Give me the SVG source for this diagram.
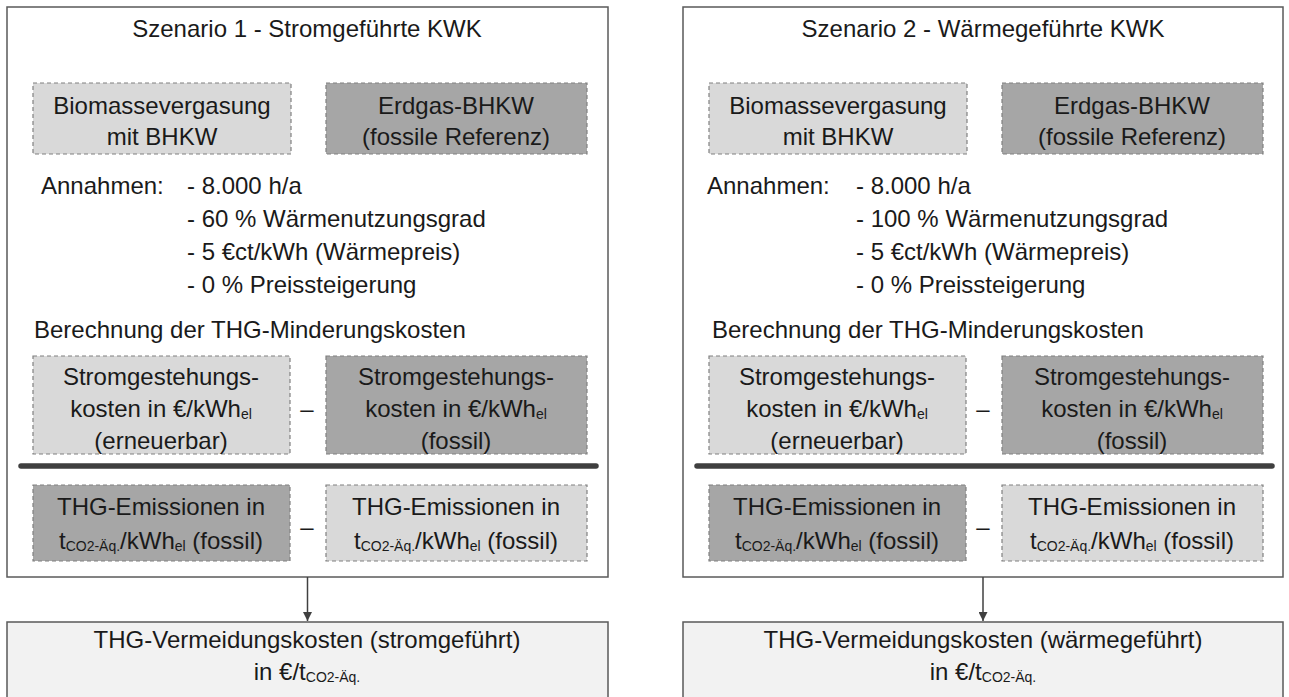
<svg xmlns="http://www.w3.org/2000/svg" width="1289" height="697" viewBox="0 0 1289 697">
<defs>
<style>
text{font-family:"Liberation Sans",Arial,sans-serif;font-size:24px;fill:#1a1a1a}
.c{text-anchor:middle}
.s{font-size:14px}
.panel{fill:#ffffff;stroke:#5a5a5a;stroke-width:1.5}
.res{fill:#f2f2f2;stroke:#5a5a5a;stroke-width:1.5}
.lt{fill:#d9d9d9;stroke:#808080;stroke-width:1.2;stroke-dasharray:4 3}
.dk{fill:#a6a6a6;stroke:#808080;stroke-width:1.2;stroke-dasharray:4 3}
.bar{stroke:#3f3f3f;stroke-width:5.5;stroke-linecap:round}
.con{stroke:#404040;stroke-width:1.5;fill:none}
</style>
<marker id="ah" viewBox="0 0 10 10" refX="10" refY="5" markerWidth="9" markerHeight="9" markerUnits="userSpaceOnUse" orient="auto">
<path d="M0,0 L10,5 L0,10 z" fill="#404040"/>
</marker>
</defs>

<!-- Scenario 1 panel -->
<g id="panel1">
<rect class="panel" x="7" y="7" width="601" height="570"/>
<text class="c" x="307" y="37">Szenario 1 - Stromgeführte KWK</text>
</g>
<g id="p1-bio">
<rect class="lt" x="33" y="83" width="258" height="71"/>
<text class="c" x="162" y="114">Biomassevergasung</text>
<text class="c" x="162" y="145">mit BHKW</text>
</g>
<g id="p1-erdgas">
<rect class="dk" x="326" y="83" width="261" height="71"/>
<text class="c" x="456" y="114">Erdgas-BHKW</text>
<text class="c" x="456" y="145">(fossile Referenz)</text>
</g>
<g id="p1-annahmen">
<text x="41" y="194">Annahmen:</text>
<text x="187" y="194">- 8.000 h/a</text>
<text x="187" y="227">- 60 % Wärmenutzungsgrad</text>
<text x="187" y="260">- 5 €ct/kWh (Wärmepreis)</text>
<text x="187" y="293">- 0 % Preissteigerung</text>
</g>
<g id="p1-berechnung">
<text x="34" y="338">Berechnung der THG-Minderungskosten</text>
</g>
<g id="p1-sgk-ee">
<rect class="lt" x="33" y="356" width="257" height="98"/>
<text class="c" x="161" y="385">Stromgestehungs-</text>
<text class="c" x="161" y="417">kosten in €/kWh<tspan class="s" dy="2">el</tspan></text>
<text class="c" x="161" y="449">(erneuerbar)</text>
</g>
<text class="c" x="307" y="417">–</text>
<g id="p1-sgk-fos">
<rect class="dk" x="326" y="356" width="261" height="98"/>
<text class="c" x="456" y="385">Stromgestehungs-</text>
<text class="c" x="456" y="417">kosten in €/kWh<tspan class="s" dy="2">el</tspan></text>
<text class="c" x="456" y="449">(fossil)</text>
</g>
<line class="bar" x1="21" y1="466" x2="596" y2="466"/>
<g id="p1-thg-fos">
<rect class="dk" x="33" y="485" width="257" height="76"/>
<text class="c" x="161" y="515">THG-Emissionen in</text>
<text class="c" x="161" y="549">t<tspan class="s" dy="2">CO2-Äq.</tspan><tspan dy="-2">/kWh</tspan><tspan class="s" dy="2">el</tspan><tspan dy="-2"> (fossil)</tspan></text>
</g>
<text class="c" x="307" y="535">–</text>
<g id="p1-thg-ee">
<rect class="lt" x="326" y="485" width="261" height="76"/>
<text class="c" x="456" y="515">THG-Emissionen in</text>
<text class="c" x="456" y="549">t<tspan class="s" dy="2">CO2-Äq.</tspan><tspan dy="-2">/kWh</tspan><tspan class="s" dy="2">el</tspan><tspan dy="-2"> (fossil)</tspan></text>
</g>
<g id="result1">
<rect class="res" x="7" y="622" width="601" height="90"/>
<text class="c" x="307" y="648">THG-Vermeidungskosten (stromgeführt)</text>
<text class="c" x="307" y="680">in €/t<tspan class="s" dy="2">CO2-Äq.</tspan></text>
</g>

<!-- Scenario 2 panel -->
<g id="panel2">
<rect class="panel" x="683" y="7" width="600" height="570"/>
<text class="c" x="983" y="37">Szenario 2 - Wärmegeführte KWK</text>
</g>
<g id="p2-bio">
<rect class="lt" x="709" y="83" width="258" height="71"/>
<text class="c" x="838" y="114">Biomassevergasung</text>
<text class="c" x="838" y="145">mit BHKW</text>
</g>
<g id="p2-erdgas">
<rect class="dk" x="1002" y="83" width="261" height="71"/>
<text class="c" x="1132" y="114">Erdgas-BHKW</text>
<text class="c" x="1132" y="145">(fossile Referenz)</text>
</g>
<g id="p2-annahmen">
<text x="707" y="194">Annahmen:</text>
<text x="856" y="194">- 8.000 h/a</text>
<text x="856" y="227">- 100 % Wärmenutzungsgrad</text>
<text x="856" y="260">- 5 €ct/kWh (Wärmepreis)</text>
<text x="856" y="293">- 0 % Preissteigerung</text>
</g>
<g id="p2-berechnung">
<text x="712" y="338">Berechnung der THG-Minderungskosten</text>
</g>
<g id="p2-sgk-ee">
<rect class="lt" x="709" y="356" width="257" height="98"/>
<text class="c" x="837" y="385">Stromgestehungs-</text>
<text class="c" x="837" y="417">kosten in €/kWh<tspan class="s" dy="2">el</tspan></text>
<text class="c" x="837" y="449">(erneuerbar)</text>
</g>
<text class="c" x="983" y="417">–</text>
<g id="p2-sgk-fos">
<rect class="dk" x="1002" y="356" width="261" height="98"/>
<text class="c" x="1132" y="385">Stromgestehungs-</text>
<text class="c" x="1132" y="417">kosten in €/kWh<tspan class="s" dy="2">el</tspan></text>
<text class="c" x="1132" y="449">(fossil)</text>
</g>
<line class="bar" x1="697" y1="466" x2="1272" y2="466"/>
<g id="p2-thg-fos">
<rect class="dk" x="709" y="485" width="257" height="76"/>
<text class="c" x="837" y="515">THG-Emissionen in</text>
<text class="c" x="837" y="549">t<tspan class="s" dy="2">CO2-Äq.</tspan><tspan dy="-2">/kWh</tspan><tspan class="s" dy="2">el</tspan><tspan dy="-2"> (fossil)</tspan></text>
</g>
<text class="c" x="983" y="535">–</text>
<g id="p2-thg-ee">
<rect class="lt" x="1002" y="485" width="261" height="76"/>
<text class="c" x="1132" y="515">THG-Emissionen in</text>
<text class="c" x="1132" y="549">t<tspan class="s" dy="2">CO2-Äq.</tspan><tspan dy="-2">/kWh</tspan><tspan class="s" dy="2">el</tspan><tspan dy="-2"> (fossil)</tspan></text>
</g>
<g id="result2">
<rect class="res" x="683" y="622" width="600" height="90"/>
<text class="c" x="983" y="648">THG-Vermeidungskosten (wärmegeführt)</text>
<text class="c" x="983" y="680">in €/t<tspan class="s" dy="2">CO2-Äq.</tspan></text>
</g>

<g id="connectors">
<line class="con" x1="307.5" y1="577" x2="307.5" y2="621" marker-end="url(#ah)"/>
<line class="con" x1="983" y1="577" x2="983" y2="621" marker-end="url(#ah)"/>
</g>
</svg>
